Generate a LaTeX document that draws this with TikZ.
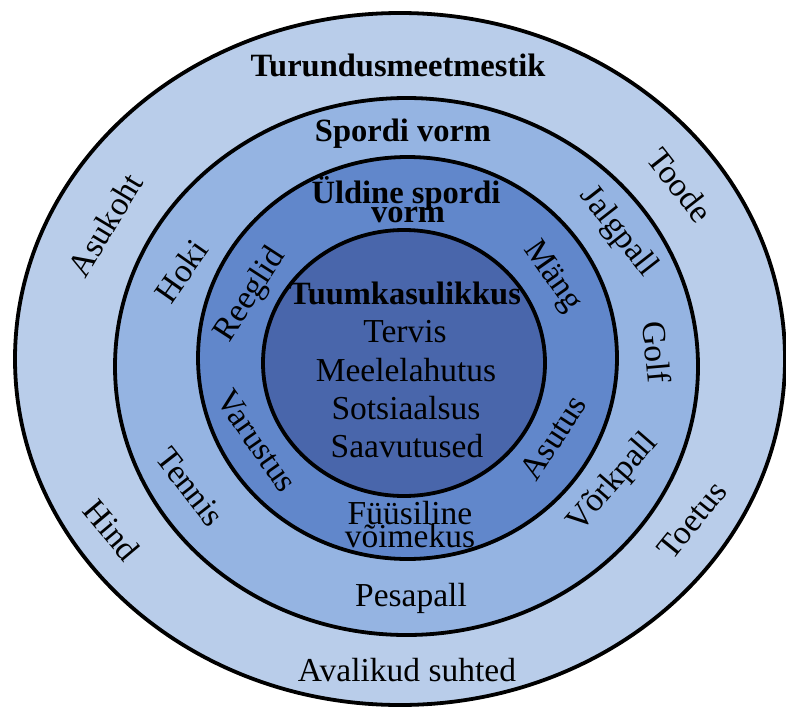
\documentclass[tikz,border=0pt]{standalone}
\usepackage{fontspec}
\setmainfont{Liberation Serif}
\usetikzlibrary{shapes.geometric}
\definecolor{ringA}{RGB}{185,205,234}
\definecolor{ringB}{RGB}{149,180,226}
\definecolor{ringC}{RGB}{97,135,203}
\definecolor{ringD}{RGB}{73,102,171}
\begin{document}
\begin{tikzpicture}[x=1pt,y=-1pt,
  ring/.style={ellipse, draw=black, line width=3.8pt, inner sep=0pt},
  lab/.style={font=\fontsize{33.5}{35}\selectfont, inner sep=0pt},
  blab/.style={font=\bfseries\fontsize{32.5}{34}\selectfont, inner sep=0pt}]
\useasboundingbox (0,0) rectangle (786,709);
\fill[white] (0,0) rectangle (786,709);
% rings
\node[ring, fill=ringA, minimum width=770pt, minimum height=692pt] (outer) at (400,359) {};
\node[ring, fill=ringB, minimum width=583pt, minimum height=537pt] (second) at (406.5,366.5) {};
\node[ring, fill=ringC, minimum width=419pt, minimum height=402pt] (third) at (407.5,358) {};
\node[ring, fill=ringD, minimum width=282pt, minimum height=266pt] (core) at (404,363) {};
% titles
\node[blab, anchor=base] (t1) at (398,76) {Turundusmeetmestik};
\node[blab, anchor=base] (t2) at (403,141) {Spordi vorm};
\node[blab, anchor=base] (t3a) at (406,203) {Üldine spordi};
\node[blab, anchor=base] (t3b) at (408,222) {vorm};
\node[blab, anchor=base] (t4) at (405,304) {Tuumkasulikkus};
% core items
\node[lab, anchor=base] (c1) at (405,342) {Tervis};
\node[lab, anchor=base] (c2) at (406,381) {Meelelahutus};
\node[lab, anchor=base] (c3) at (406,419) {Sotsiaalsus};
\node[lab, anchor=base] (c4) at (407,457) {Saavutused};
% third ring
\node[lab, anchor=base] (f1) at (410,524) {Füüsiline};
\node[lab, anchor=base] (f2) at (410,547) {võimekus};
\node[lab, rotate=57] (reeglid) at (251,295) {Reeglid};
\node[lab, rotate=-55] (varustus) at (257,441) {Varustus};
\node[lab, rotate=-55] (mang) at (552,277) {Mäng};
\node[lab, rotate=57] (asutus) at (553,438) {Asutus};
% second ring
\node[lab, anchor=base] (pesapall) at (411,606) {Pesapall};
\node[lab, rotate=55] (hoki) at (181,271) {Hoki};
\node[lab, rotate=-52] (tennis) at (190,487) {Tennis};
\node[lab, rotate=-52] (jalgpall) at (618,232) {Jalgpall};
\node[lab, rotate=-85] (golf) at (657,352) {Golf};
\node[lab, rotate=49] (vorkpall) at (613,483) {Võrkpall};
% outer ring
\node[lab, anchor=base] (avalikud) at (407,681) {Avalikud suhted};
\node[lab, rotate=59] (asukoht) at (105,225) {Asukoht};
\node[lab, rotate=-50] (hind) at (112,530) {Hind};
\node[lab, rotate=-52] (toode) at (680,185) {Toode};
\node[lab, rotate=51] (toetus) at (692,520) {Toetus};
\end{tikzpicture}
\end{document}
